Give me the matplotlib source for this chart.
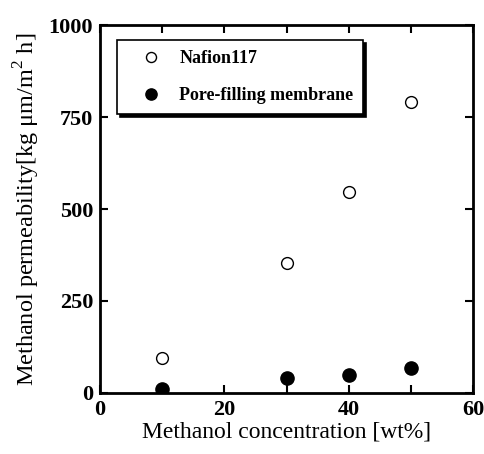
import matplotlib.pyplot as plt
from matplotlib.ticker import MultipleLocator

plt.rcParams["font.family"] = ["Liberation Serif", "DejaVu Serif"]
plt.rcParams["mathtext.fontset"] = "custom"
plt.rcParams["mathtext.rm"] = "Liberation Serif"

conc = [10, 30, 40, 50]
nafion = [95, 352, 545, 790]
pore_filling = [12, 40, 48, 68]

fig = plt.figure(figsize=(4.85, 4.54), dpi=100)
ax = fig.add_axes([100 / 485, 61 / 454, 373 / 485, 368 / 454])

ax.plot(conc, nafion, "o", ms=8.5, mfc="white", mec="black", mew=1.0, label="Nafion117")
ax.plot(conc, pore_filling, "o", ms=9.5, mfc="black", mec="black", label="Pore-filling membrane")

ax.set_xlim(0, 60)
ax.set_ylim(0, 1000)
ax.xaxis.set_major_locator(MultipleLocator(20))
ax.xaxis.set_minor_locator(MultipleLocator(10))
ax.yaxis.set_major_locator(MultipleLocator(250))
ax.tick_params(which="both", direction="in", top=True, right=True, width=1.5)
ax.tick_params(which="major", length=6, labelsize=16, pad=5)
ax.tick_params(which="minor", length=6)
for lab in ax.get_xticklabels() + ax.get_yticklabels():
    lab.set_fontweight("bold")
for s in ax.spines.values():
    s.set_linewidth(2)

ax.set_xlabel("Methanol concentration [wt%]", fontsize=17, labelpad=1)
ax.set_ylabel("Methanol permeability[kg μm/m$^2$ h]", fontsize=17.5, labelpad=5)

leg = ax.legend(loc="upper left", bbox_to_anchor=(0.046, 0.959), borderaxespad=0,
                frameon=True, shadow={"color": "black", "alpha": 1.0, "ox": 2, "oy": -2},
                fancybox=False, prop={"weight": "bold", "size": 13},
                handlelength=2.67, handletextpad=0.22, labelspacing=1.1, borderpad=0.55,
                markerscale=0.85)
leg.get_frame().set_edgecolor("black")
leg.get_frame().set_linewidth(1.2)

fig.savefig("out.png", dpi=100)
